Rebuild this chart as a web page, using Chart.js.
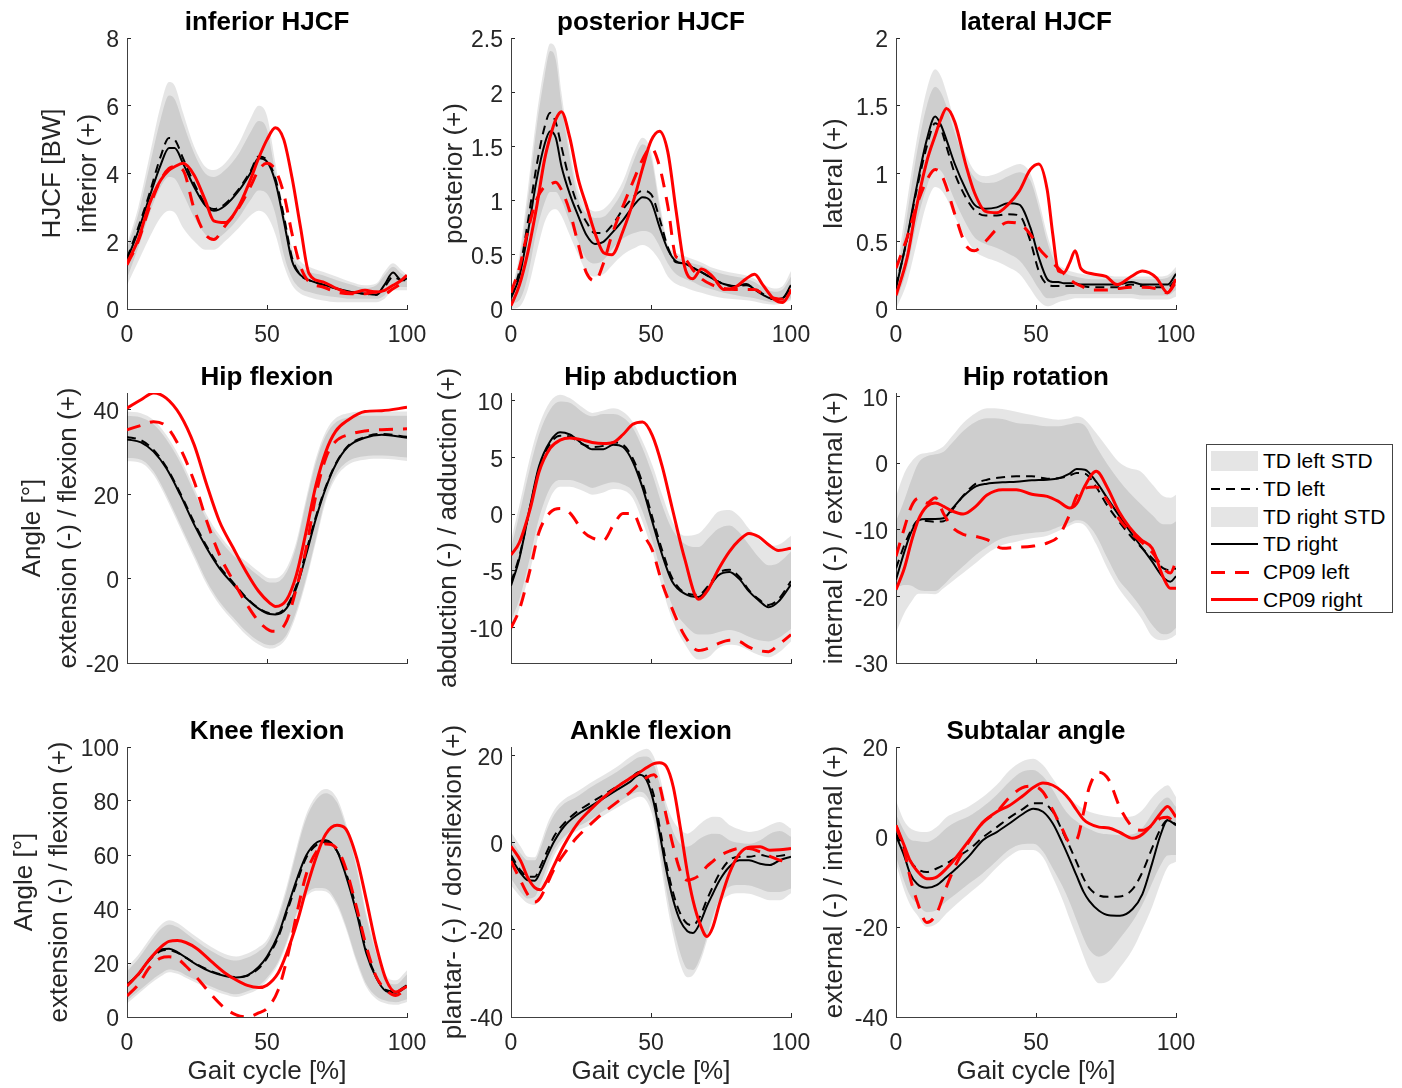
<!DOCTYPE html>
<html>
<head>
<meta charset="utf-8">
<title>Hip contact forces and joint angles over the gait cycle</title>
<script src="https://cdn.jsdelivr.net/npm/chart.js@4.4.1/dist/chart.umd.min.js"></script>
<style>
  html, body { margin: 0; padding: 0; background: #fff; }
  #page { position: relative; width: 1402px; height: 1088px; overflow: hidden;
          font-family: "Liberation Sans", Arial, Helvetica, sans-serif; }
  #page canvas { position: absolute; }
  #legend { position: absolute; left: 1206px; top: 444px; width: 185px; height: 167px;
            border: 1px solid #444; background: #fff; }
  #legend .item { position: absolute; left: 0; width: 185px; height: 26px; }
  #legend .sw { position: absolute; left: 4px; width: 47px; }
  #legend .lbl { position: absolute; left: 56px; top: 0; font-size: 21px; line-height: 26px;
                 color: #000; white-space: nowrap; }
</style>
</head>
<body>
<div id="page"></div>
<script>
/* ---------- Ortak değerler ---------- */
const xTicks = [0, 50, 100];
const legendLabels = ['TD left STD', 'TD left', 'TD right STD', 'TD right', 'CP09 left', 'CP09 right'];

/* ---------- inferior HJCF ---------- */
const infX        = [0, 4, 8, 12, 15, 17, 20, 24, 28, 31, 35, 40, 44, 47, 50, 53, 56, 59, 62, 65, 70, 75, 80, 85, 89, 92, 95, 98, 100];
const infTdRight  = [1.45, 2.3, 3.3, 4.25, 4.75, 4.75, 4.3, 3.6, 3.05, 2.9, 3.05, 3.5, 4.0, 4.45, 4.35, 3.75, 2.6, 1.4, 1.0, 0.85, 0.72, 0.6, 0.5, 0.45, 0.42, 0.72, 1.08, 0.85, 0.9];
const infTdLeft   = [1.5, 2.4, 3.4, 4.5, 5.05, 5.0, 4.45, 3.7, 3.1, 2.95, 3.1, 3.55, 4.05, 4.5, 4.4, 3.85, 2.75, 1.5, 1.0, 0.85, 0.72, 0.6, 0.5, 0.45, 0.42, 0.65, 0.95, 0.85, 0.85];
const infCpRight  = [1.35, 2.05, 3.1, 3.8, 4.1, 4.2, 4.3, 3.95, 3.2, 2.6, 2.55, 3.05, 3.8, 4.45, 5.0, 5.35, 5.0, 3.85, 2.4, 1.05, 0.8, 0.6, 0.47, 0.55, 0.5, 0.55, 0.7, 0.85, 1.0];
const infCpLeft   = [1.3, 2.0, 3.0, 3.8, 4.15, 4.2, 4.1, 2.95, 2.2, 2.05, 2.45, 3.0, 3.6, 4.1, 4.3, 4.1, 3.4, 2.2, 1.25, 0.8, 0.65, 0.5, 0.45, 0.45, 0.5, 0.45, 0.6, 0.75, 0.85];
const infLeftUp   = [1.9, 3.0, 4.5, 6.0, 6.7, 6.6, 5.8, 4.8, 4.2, 4.1, 4.3, 4.9, 5.6, 6.0, 5.7, 4.3, 2.9, 1.8, 1.4, 1.25, 1.1, 0.95, 0.8, 0.7, 0.75, 1.1, 1.35, 1.15, 1.0];
const infLeftLo   = [0.9, 1.8, 2.8, 3.6, 3.9, 3.85, 3.4, 2.7, 2.2, 2.05, 2.25, 2.7, 3.2, 3.5, 3.4, 2.8, 1.6, 0.9, 0.6, 0.5, 0.4, 0.35, 0.3, 0.3, 0.3, 0.4, 0.7, 0.65, 0.65];
const infRightUp  = [1.8, 2.8, 4.2, 5.6, 6.3, 6.2, 5.5, 4.6, 4.0, 3.9, 4.1, 4.6, 5.2, 5.55, 5.3, 4.0, 2.7, 1.6, 1.25, 1.1, 1.0, 0.85, 0.72, 0.62, 0.7, 1.0, 1.25, 1.05, 0.95];
const infRightLo  = [0.7, 1.4, 2.1, 2.7, 2.9, 2.85, 2.4, 2.0, 1.75, 1.75, 2.0, 2.4, 2.75, 2.9, 2.75, 2.2, 1.3, 0.7, 0.45, 0.35, 0.25, 0.2, 0.2, 0.2, 0.2, 0.3, 0.55, 0.55, 0.55];
const infYTicks   = [0, 2, 4, 6, 8];

/* ---------- posterior HJCF ---------- */
const postX       = [0, 3, 6, 9, 12, 14, 16, 18, 21, 24, 27, 30, 33, 36, 40, 44, 47, 50, 53, 56, 59, 62, 65, 68, 72, 76, 80, 84, 87, 90, 94, 97, 100];
const postTdRight = [0.1, 0.3, 0.7, 1.17, 1.52, 1.64, 1.58, 1.32, 1.06, 0.86, 0.68, 0.6, 0.62, 0.7, 0.82, 0.96, 1.03, 0.99, 0.76, 0.55, 0.44, 0.42, 0.38, 0.34, 0.28, 0.23, 0.21, 0.23, 0.18, 0.13, 0.09, 0.1, 0.22];
const postTdLeft  = [0.12, 0.35, 0.8, 1.3, 1.68, 1.81, 1.72, 1.5, 1.18, 0.95, 0.8, 0.7, 0.7, 0.77, 0.92, 1.04, 1.09, 1.06, 0.84, 0.57, 0.43, 0.42, 0.38, 0.34, 0.28, 0.23, 0.21, 0.22, 0.19, 0.14, 0.09, 0.1, 0.2];
const postCpRight = [0.03, 0.22, 0.52, 0.92, 1.38, 1.59, 1.75, 1.82, 1.58, 1.2, 0.95, 0.7, 0.52, 0.5, 0.72, 1.02, 1.3, 1.55, 1.64, 1.45, 0.9, 0.39, 0.28, 0.37, 0.3, 0.18, 0.2, 0.28, 0.32, 0.22, 0.09, 0.06, 0.17];
const postCpLeft  = [0.15, 0.38, 0.72, 1.0, 1.13, 1.15, 1.17, 1.1, 0.9, 0.6, 0.33, 0.26, 0.42, 0.68, 0.95, 1.2, 1.38, 1.49, 1.32, 0.95, 0.48, 0.46, 0.36, 0.28, 0.22, 0.19, 0.18, 0.18, 0.18, 0.14, 0.1, 0.09, 0.18];
const postLeftUp  = [0.15, 0.5, 1.1, 1.75, 2.25, 2.45, 2.4, 2.0, 1.47, 1.1, 0.95, 0.9, 0.92, 1.0, 1.18, 1.45, 1.58, 1.45, 1.0, 0.6, 0.52, 0.49, 0.46, 0.43, 0.38, 0.35, 0.33, 0.31, 0.28, 0.23, 0.19, 0.21, 0.35];
const postLeftLo  = [0.05, 0.08, 0.3, 0.7, 0.98, 1.08, 1.08, 1.0, 0.8, 0.62, 0.46, 0.42, 0.45, 0.55, 0.65, 0.7, 0.72, 0.7, 0.58, 0.42, 0.32, 0.28, 0.25, 0.21, 0.18, 0.15, 0.13, 0.11, 0.1, 0.08, 0.06, 0.06, 0.1];
const postRightUp = [0.12, 0.45, 1.0, 1.65, 2.15, 2.38, 2.3, 1.9, 1.4, 1.02, 0.88, 0.84, 0.85, 0.93, 1.1, 1.38, 1.52, 1.4, 0.95, 0.56, 0.48, 0.45, 0.42, 0.4, 0.35, 0.32, 0.3, 0.28, 0.25, 0.2, 0.16, 0.18, 0.3];
const postRightLo = [0.0, 0.02, 0.18, 0.5, 0.8, 0.9, 0.92, 0.86, 0.68, 0.5, 0.34, 0.3, 0.32, 0.4, 0.5, 0.56, 0.59, 0.55, 0.45, 0.3, 0.23, 0.2, 0.17, 0.15, 0.12, 0.1, 0.09, 0.08, 0.07, 0.05, 0.04, 0.05, 0.08];
const postYTicks  = [0, 0.5, 1, 1.5, 2, 2.5];

/* ---------- lateral HJCF ---------- */
const latX        = [0, 4, 7, 11, 14, 16, 18, 21, 25, 28, 32, 36, 40, 44, 48, 51, 54, 56, 58, 60, 62, 64, 66, 70, 75, 79, 84, 88, 93, 97, 100];
const latTdRight  = [0.15, 0.53, 0.86, 1.25, 1.42, 1.36, 1.25, 1.07, 0.88, 0.77, 0.74, 0.75, 0.78, 0.77, 0.6, 0.38, 0.22, 0.2, 0.2, 0.19, 0.19, 0.19, 0.18, 0.18, 0.18, 0.18, 0.2, 0.18, 0.18, 0.18, 0.26];
const latTdLeft   = [0.17, 0.52, 0.84, 1.2, 1.37, 1.33, 1.2, 1.0, 0.82, 0.73, 0.69, 0.69, 0.7, 0.69, 0.5, 0.28, 0.18, 0.17, 0.17, 0.17, 0.17, 0.17, 0.17, 0.16, 0.16, 0.16, 0.18, 0.17, 0.16, 0.16, 0.22];
const latCpRight  = [0.1, 0.38, 0.72, 1.09, 1.28, 1.4, 1.48, 1.38, 1.06, 0.86, 0.72, 0.71, 0.77, 0.87, 1.03, 1.07, 0.88, 0.55, 0.28, 0.27, 0.34, 0.43, 0.3, 0.26, 0.24, 0.18, 0.24, 0.28, 0.23, 0.12, 0.22];
const latCpLeft   = [0.3, 0.53, 0.74, 0.95, 1.03, 1.0, 0.9, 0.7, 0.47, 0.43, 0.5, 0.59, 0.64, 0.63, 0.55, 0.45, 0.38, 0.34, 0.3, 0.26, 0.22, 0.19, 0.17, 0.14, 0.14, 0.15, 0.16, 0.16, 0.15, 0.12, 0.2];
const latLeftUp   = [0.25, 0.8, 1.2, 1.62, 1.77, 1.72, 1.6, 1.38, 1.14, 1.02, 0.98, 1.0, 1.04, 1.07, 1.0, 0.8, 0.55, 0.42, 0.33, 0.3, 0.28, 0.27, 0.26, 0.25, 0.25, 0.24, 0.24, 0.24, 0.24, 0.25, 0.31];
const latLeftLo   = [0.05, 0.3, 0.6, 0.9, 1.04, 1.02, 0.95, 0.8, 0.63, 0.53, 0.48, 0.45, 0.41, 0.36, 0.25, 0.15, 0.08, 0.08, 0.09, 0.1, 0.11, 0.11, 0.11, 0.11, 0.11, 0.11, 0.11, 0.1, 0.1, 0.1, 0.14];
const latRightUp  = [0.2, 0.7, 1.1, 1.5, 1.64, 1.6, 1.5, 1.3, 1.08, 0.97, 0.93, 0.94, 0.98, 1.01, 0.95, 0.75, 0.5, 0.38, 0.3, 0.27, 0.25, 0.24, 0.23, 0.22, 0.22, 0.22, 0.22, 0.22, 0.22, 0.23, 0.28];
const latRightLo  = [0.0, 0.2, 0.45, 0.78, 0.9, 0.88, 0.82, 0.68, 0.52, 0.43, 0.38, 0.35, 0.31, 0.26, 0.15, 0.06, 0.02, 0.03, 0.05, 0.06, 0.07, 0.08, 0.08, 0.08, 0.08, 0.08, 0.08, 0.07, 0.07, 0.07, 0.09];
const latYTicks   = [0, 0.5, 1, 1.5, 2];

/* ---------- Hip flexion ---------- */
const flexX       = [0, 5, 9.5, 14, 19, 24, 28.5, 33, 38, 42.5, 47, 51, 53, 57, 60.5, 64, 67.5, 71, 74.5, 79, 85, 91, 100];
const flexTdRight = [33.0, 32.3, 30.1, 26.2, 19.9, 12.8, 7.2, 2.5, -1.4, -4.6, -7.1, -8.4, -8.5, -7.0, -2.2, 5.7, 14.3, 21.5, 27.0, 31.3, 33.4, 34.1, 33.4];
const flexTdLeft  = [33.6, 32.8, 30.5, 26.5, 20.3, 13.3, 7.6, 2.9, -1.0, -4.4, -7.0, -8.2, -8.3, -6.6, -1.6, 6.5, 14.8, 21.8, 27.2, 31.5, 33.6, 34.3, 33.6];
const flexCpRight = [40.4, 42.4, 44.0, 42.8, 38.8, 31.7, 22.2, 13.6, 7.2, 1.7, -3.0, -5.8, -6.6, -5.0, 0.9, 11.2, 22.2, 30.1, 34.9, 37.6, 39.6, 39.8, 40.6];
const flexCpLeft  = [35.3, 36.3, 37.2, 36.1, 30.9, 23.0, 13.6, 5.7, -0.6, -5.8, -10.1, -12.3, -12.5, -10.1, -2.2, 7.2, 19.9, 28.6, 32.5, 34.1, 35.0, 35.3, 35.5];
const flexLeftUp  = [39.6, 39.2, 37.6, 34.1, 28.6, 21.5, 15.1, 10.4, 6.5, 4.1, 1.7, 0.1, 0.1, 2.5, 8.8, 19.1, 28.6, 34.9, 38.0, 39.2, 39.6, 39.6, 39.6];
const flexLeftLo  = [28.6, 28.2, 25.4, 19.9, 12.8, 5.7, -0.6, -5.4, -9.3, -12.5, -14.8, -15.8, -15.6, -13.3, -7.7, 0.2, 9.6, 19.1, 24.6, 27.8, 29.0, 29.2, 28.7];
const flexRightUp = [38.6, 38.2, 36.6, 33.1, 27.6, 20.5, 14.1, 9.4, 5.5, 3.1, 0.7, -0.9, -0.9, 1.5, 7.8, 18.1, 27.6, 33.9, 37.0, 38.2, 38.6, 38.6, 38.6];
const flexRightLo = [27.8, 27.4, 24.6, 19.1, 12.0, 4.9, -1.4, -6.2, -10.1, -13.3, -15.6, -16.6, -16.4, -14.1, -8.5, -0.6, 8.8, 18.3, 23.8, 27.0, 28.2, 28.4, 27.9];
const flexYTicks  = [-20, 0, 20, 40];

/* ---------- Hip abduction ---------- */
const abdX        = [0, 3, 7, 10, 14, 17.5, 21, 26, 29, 33, 36.5, 40, 43.5, 47, 50.5, 54, 57.5, 62, 67, 70.5, 74, 78, 81.5, 85, 88.5, 92, 95.5, 100];
const abdTdRight  = [-6.3, -3.9, 0.9, 4.2, 6.4, 7.2, 7.0, 6.1, 5.7, 5.7, 6.1, 5.9, 4.6, 2.3, -0.7, -3.6, -5.9, -7.0, -7.3, -6.5, -5.4, -5.1, -5.7, -6.8, -7.6, -8.2, -7.7, -6.2];
const abdTdLeft   = [-6.0, -3.7, 0.8, 4.0, 6.2, 6.9, 6.8, 6.1, 5.9, 6.0, 6.3, 6.1, 4.9, 2.7, -0.3, -3.2, -5.6, -6.9, -7.1, -6.3, -5.2, -4.9, -5.5, -6.7, -7.5, -8.0, -7.5, -5.9];
const abdCpRight  = [-3.6, -2.5, 0.6, 3.7, 5.8, 6.5, 6.7, 6.5, 6.3, 6.2, 6.3, 7.0, 7.9, 8.1, 6.9, 4.2, 0.6, -3.9, -7.5, -6.6, -4.9, -3.3, -2.3, -1.7, -2.0, -2.7, -3.2, -3.0];
const abdCpLeft   = [-10.0, -8.4, -4.7, -1.6, 0.15, 0.5, 0.1, -1.6, -2.1, -2.3, -1.0, 0.05, 0.05, -1.7, -3.2, -6.1, -8.3, -10.7, -12.0, -11.8, -11.4, -11.1, -11.2, -11.7, -12.0, -12.1, -11.5, -10.6];
const abdLeftUp   = [-2.3, 0.8, 5.2, 7.8, 9.9, 10.5, 10.2, 9.3, 8.9, 9.1, 9.3, 9.0, 8.1, 6.4, 4.3, 1.7, -0.6, -1.9, -1.7, -0.8, 0.2, 0.35, -0.2, -1.3, -2.2, -2.8, -2.7, -1.9];
const abdLeftLo   = [-9.4, -7.5, -3.6, -0.4, 2.3, 3.0, 3.0, 2.6, 2.3, 2.6, 2.8, 2.6, 2.0, 0.2, -2.4, -5.4, -8.0, -9.7, -10.6, -10.6, -10.4, -10.2, -10.4, -10.8, -11.1, -11.2, -10.9, -10.1];
const abdRightUp  = [-3.0, 0.0, 4.3, 7.0, 9.2, 9.9, 9.8, 8.9, 8.6, 8.8, 8.8, 8.5, 7.6, 5.8, 3.5, 0.8, -1.3, -2.6, -2.9, -2.1, -1.3, -1.0, -1.6, -2.7, -3.8, -4.5, -4.3, -3.3];
const abdRightLo  = [-10.3, -8.3, -4.8, -1.7, 1.4, 2.4, 2.4, 2.0, 1.7, 1.9, 2.2, 2.1, 1.4, -0.7, -3.3, -6.5, -9.2, -11.4, -12.8, -12.6, -11.8, -11.5, -11.6, -12.0, -12.4, -12.6, -12.2, -11.2];
const abdYTicks   = [-10, -5, 0, 5, 10];

/* ---------- Hip rotation ---------- */
const rotX        = [0, 3, 5.5, 8, 11, 14, 17, 20, 24, 28.5, 32.5, 38, 43, 48.5, 54, 58, 62, 64.5, 67.5, 71.5, 75.5, 79.5, 83.5, 87.5, 91.5, 95.5, 98, 100];
const rotTdRight  = [-17.5, -13.3, -10.3, -8.6, -8.4, -8.4, -8.3, -6.9, -5.0, -3.5, -3.1, -2.9, -2.8, -2.6, -2.5, -2.3, -1.6, -0.9, -1.0, -2.8, -5.3, -7.8, -10.2, -12.5, -14.8, -17.2, -17.8, -17.0];
const rotTdLeft   = [-15.8, -12.3, -10.0, -8.6, -8.7, -8.8, -8.75, -7.1, -4.9, -3.1, -2.5, -2.15, -2.0, -2.0, -2.35, -2.3, -1.9, -1.5, -1.6, -3.6, -6.4, -8.7, -10.8, -12.6, -14.3, -15.8, -16.1, -15.8];
const rotCpRight  = [-19.0, -15.75, -11.8, -8.5, -6.5, -6.0, -6.5, -7.2, -7.65, -6.5, -4.8, -4.0, -4.0, -4.7, -5.0, -5.75, -6.75, -6.1, -3.4, -1.25, -3.7, -7.2, -9.7, -11.5, -12.8, -17.2, -18.8, -18.8];
const rotCpLeft   = [-14.0, -9.75, -6.5, -5.3, -6.0, -5.2, -7.6, -9.6, -10.7, -11.0, -11.5, -12.8, -12.65, -12.5, -12.0, -11.0, -7.75, -5.0, -3.8, -3.6, -5.6, -8.3, -10.3, -11.8, -13.4, -15.8, -16.5, -14.7];
const rotLeftUp   = [-5.0, -1.5, 0.2, 1.2, 1.5, 1.8, 2.5, 4.0, 6.0, 7.5, 8.2, 8.1, 7.7, 7.2, 6.7, 6.5, 6.7, 7.0, 6.5, 4.5, 2.3, 0.2, -0.8, -1.3, -3.2, -5.0, -5.2, -4.75];
const rotLeftLo   = [-18.75, -18.3, -18.4, -19.0, -19.2, -19.2, -18.3, -17.0, -15.5, -13.8, -12.6, -11.3, -10.8, -10.5, -10.25, -9.6, -9.0, -8.6, -8.9, -10.9, -14.3, -17.5, -19.5, -21.7, -24.3, -25.7, -25.5, -24.75];
const rotRightUp  = [-8.75, -5.5, -2.5, 0.0, 1.0, 1.3, 1.7, 3.0, 4.8, 6.2, 6.7, 6.6, 6.0, 5.8, 5.5, 5.5, 5.8, 6.0, 5.6, 2.5, -0.2, -2.5, -4.5, -6.2, -7.8, -9.2, -9.2, -8.75];
const rotRightLo  = [-25.5, -22.5, -20.8, -19.6, -19.6, -19.7, -18.8, -17.8, -16.5, -15.0, -13.6, -12.3, -11.8, -11.3, -10.9, -10.2, -9.4, -9.0, -9.4, -12.2, -15.8, -18.8, -21.0, -23.2, -26.0, -26.6, -26.3, -25.75];
const rotYTicks   = [-30, -20, -10, 0, 10];

/* ---------- Knee flexion ---------- */
const kneeX       = [0, 4, 8, 12, 15, 18, 21, 25, 30, 35, 39, 43, 47, 50, 54, 57, 61, 64, 68, 71, 75, 78, 82, 85.5, 89, 92.5, 96, 100];
const kneeTdRight = [12.0, 15.8, 21.3, 25.0, 25.3, 24.0, 22.0, 19.3, 16.7, 15.2, 14.6, 15.4, 18.5, 22.4, 30.3, 39.6, 52.0, 59.8, 64.8, 65.5, 61.5, 53.0, 38.5, 23.5, 14.5, 9.6, 9.0, 11.4];
const kneeTdLeft  = [11.5, 15.5, 21.0, 24.4, 24.8, 23.8, 22.0, 19.5, 17.0, 15.4, 14.8, 15.3, 18.0, 21.8, 29.5, 38.5, 50.8, 59.0, 64.0, 64.8, 61.5, 54.0, 40.0, 24.5, 15.0, 10.0, 9.5, 11.8];
const kneeCpRight = [11.5, 15.8, 21.3, 25.8, 28.0, 28.3, 27.6, 25.3, 20.7, 16.3, 13.7, 11.7, 10.9, 11.8, 16.3, 23.5, 36.0, 47.3, 60.5, 67.8, 71.0, 69.8, 59.0, 43.3, 26.5, 13.9, 9.3, 11.4];
const kneeCpLeft  = [7.8, 12.0, 18.3, 21.8, 22.3, 21.6, 18.9, 14.5, 8.4, 3.2, 0.8, 0.0, 1.5, 3.2, 10.0, 21.0, 40.0, 52.8, 61.8, 64.1, 62.3, 55.5, 40.5, 26.0, 15.0, 10.0, 8.0, 10.9];
const kneeLeftUp  = [18.5, 23.0, 28.8, 34.0, 35.8, 34.8, 32.6, 29.5, 26.0, 23.3, 22.4, 23.5, 25.8, 28.6, 38.0, 48.3, 64.5, 75.0, 82.5, 84.4, 81.0, 72.5, 56.5, 38.4, 25.0, 15.5, 13.6, 17.3];
const kneeLeftLo  = [6.0, 9.5, 13.0, 16.0, 17.6, 17.0, 15.5, 13.5, 11.3, 9.3, 8.4, 9.5, 11.5, 14.5, 20.5, 28.0, 39.5, 45.5, 47.8, 47.5, 42.2, 34.3, 21.2, 12.1, 7.7, 6.0, 5.5, 6.6];
const kneeRightUp = [17.0, 21.5, 27.3, 32.5, 34.3, 33.3, 31.1, 28.0, 24.5, 21.8, 20.9, 22.0, 24.3, 27.1, 36.5, 46.8, 63.0, 73.5, 81.0, 82.9, 79.5, 71.0, 55.0, 36.9, 23.5, 14.0, 12.1, 15.8];
const kneeRightLo = [5.0, 8.5, 12.0, 15.0, 16.6, 16.0, 14.5, 12.5, 10.3, 8.3, 7.4, 8.5, 10.5, 13.5, 19.5, 27.0, 38.5, 44.5, 46.8, 46.5, 41.2, 33.3, 20.2, 11.1, 6.7, 5.0, 4.5, 5.6];
const kneeYTicks  = [0, 20, 40, 60, 80, 100];

/* ---------- Ankle flexion ---------- */
const ankX        = [0, 3.5, 6, 8.5, 10.5, 13, 15.5, 19, 23.5, 28, 33, 38, 42.5, 46, 48.5, 51, 53, 55.5, 58, 60.5, 63, 65, 67.5, 70, 72, 74.5, 78, 81.5, 85, 89, 92.5, 96, 100];
const ankTdRight  = [-3.5, -7.0, -8.6, -8.7, -6.6, -2.9, 0.4, 3.8, 6.4, 8.2, 10.2, 12.2, 14.0, 15.6, 14.3, 9.2, 2.5, -6.3, -13.3, -18.0, -20.3, -20.7, -18.4, -14.5, -11.8, -8.6, -5.5, -4.0, -4.0, -4.8, -5.1, -4.0, -3.2];
const ankTdLeft   = [-2.8, -6.4, -7.8, -7.8, -5.4, -1.8, 1.6, 4.5, 7.1, 9.0, 11.0, 13.0, 14.8, 16.3, 15.1, 10.9, 4.0, -4.8, -11.7, -16.3, -18.6, -18.9, -16.9, -13.0, -10.2, -7.0, -4.0, -3.2, -3.2, -2.8, -3.2, -3.0, -2.5];
const ankCpRight  = [-0.8, -4.2, -8.0, -10.3, -10.8, -8.4, -5.0, -0.5, 4.2, 7.4, 10.4, 12.9, 14.8, 16.2, 17.3, 18.2, 18.4, 17.5, 12.7, 3.4, -6.8, -13.2, -18.6, -21.5, -19.5, -13.9, -7.0, -2.6, -1.0, -0.9, -1.7, -1.6, -1.3];
const ankCpLeft   = [-4.2, -8.8, -11.9, -13.6, -12.6, -9.3, -5.9, -2.5, 1.2, 4.0, 6.9, 9.4, 11.6, 13.7, 15.0, 15.6, 13.3, 6.0, -1.0, -6.5, -8.6, -8.3, -7.3, -5.4, -4.3, -3.0, -1.9, -1.3, -1.3, -2.1, -3.1, -4.0, -4.4];
const ankLeftUp   = [2.5, -0.9, -3.2, -3.3, -0.3, 4.4, 7.6, 10.0, 11.7, 13.6, 15.5, 17.5, 19.7, 21.1, 21.6, 19.8, 15.6, 9.0, 5.0, 3.0, 2.1, 2.8, 4.3, 5.5, 6.0, 5.9, 4.1, 3.1, 2.5, 3.0, 4.1, 4.8, 3.3];
const ankLeftLo   = [-8.2, -11.4, -12.8, -12.4, -9.6, -5.2, -1.5, 1.4, 3.5, 5.1, 7.3, 9.2, 11.0, 11.7, 10.7, 6.8, -0.5, -10.9, -19.3, -25.5, -29.0, -29.2, -26.5, -21.5, -17.0, -13.0, -10.1, -9.7, -9.8, -10.6, -11.3, -11.3, -10.5];
const ankRightUp  = [0.8, -2.5, -4.0, -4.0, -1.3, 3.3, 6.5, 9.0, 10.6, 12.6, 14.5, 16.4, 18.4, 19.7, 19.8, 18.1, 13.8, 7.5, 2.4, -0.3, -0.9, -0.3, 1.0, 1.8, 2.1, 2.0, 0.6, 0.0, -0.2, 0.6, 2.1, 2.7, 1.4];
const ankRightLo  = [-9.8, -12.5, -13.9, -14.3, -11.5, -6.8, -2.8, 0.6, 2.7, 4.0, 6.2, 8.1, 9.8, 10.6, 9.5, 5.0, -2.7, -13.2, -21.6, -28.0, -30.9, -30.4, -27.5, -22.5, -18.0, -14.0, -12.0, -11.6, -11.7, -12.5, -13.2, -13.2, -11.6];
const ankYTicks   = [-40, -20, 0, 20];

/* ---------- Subtalar angle ---------- */
const subX        = [0, 3, 5, 7.5, 11, 14.5, 18, 21.5, 26, 31, 36, 40.5, 45, 49, 52.5, 56, 59.5, 62, 64.5, 67, 69, 72.5, 76, 80, 84.5, 88, 91.5, 94.5, 97, 100];
const subTdRight  = [0.3, -4.3, -8.1, -10.4, -11.3, -10.7, -8.9, -7.0, -4.3, -0.7, 1.1, 3.0, 5.0, 6.3, 5.6, 3.0, -1.4, -4.9, -8.6, -12.2, -14.2, -16.4, -17.4, -17.5, -16.0, -12.7, -5.8, 0.5, 3.7, 2.6];
const subTdLeft   = [0.8, -2.6, -5.2, -7.0, -7.8, -7.0, -5.9, -4.5, -2.8, -0.1, 2.2, 4.3, 6.1, 7.5, 7.5, 5.6, 1.2, -2.1, -5.6, -9.2, -11.3, -13.0, -13.3, -13.2, -11.6, -7.8, -2.4, 1.8, 3.8, 2.8];
const subCpRight  = [2.6, -2.0, -5.2, -7.5, -9.3, -8.9, -7.0, -4.5, -0.8, 3.2, 5.6, 7.0, 9.0, 11.0, 12.0, 11.5, 10.0, 8.3, 6.0, 3.9, 3.0, 2.2, 2.0, 1.0, -0.3, 0.6, 2.8, 5.3, 6.8, 4.4];
const subCpLeft   = [2.5, -3.0, -8.9, -14.2, -19.0, -17.0, -11.1, -6.0, -1.1, 3.2, 5.6, 8.8, 10.9, 11.3, 10.0, 6.0, 1.6, -1.1, -0.6, 5.5, 11.0, 14.4, 12.7, 6.5, 2.2, 1.5, 2.6, 4.2, 4.4, 2.6];
const subLeftUp   = [8.0, 3.5, 2.0, 1.3, 1.1, 2.2, 4.4, 5.5, 6.8, 8.9, 11.6, 14.8, 16.8, 17.4, 16.0, 13.0, 10.0, 8.5, 7.3, 6.2, 5.6, 5.0, 4.6, 4.4, 4.6, 6.0, 8.8, 10.6, 11.5, 8.9];
const subLeftLo   = [-4.4, -10.0, -13.0, -14.8, -16.7, -16.3, -14.3, -12.6, -10.4, -8.1, -5.3, -2.8, -1.6, -1.5, -3.2, -7.0, -11.0, -14.5, -18.5, -22.5, -25.0, -26.6, -25.5, -22.5, -18.8, -15.0, -10.2, -6.3, -4.1, -4.0];
const subRightUp  = [5.0, 1.3, -0.5, -0.9, -1.1, 0.0, 2.0, 3.4, 4.6, 6.7, 9.4, 12.3, 14.5, 14.9, 13.5, 10.5, 6.8, 4.8, 3.5, 2.4, 1.8, 0.9, 0.6, 0.4, 0.6, 2.0, 5.2, 7.8, 8.8, 6.7];
const subRightLo  = [-5.9, -12.0, -15.0, -17.3, -20.0, -19.3, -17.0, -15.0, -12.6, -10.0, -6.8, -4.3, -2.9, -2.9, -4.5, -9.0, -14.0, -18.2, -22.3, -26.5, -29.5, -32.5, -32.0, -29.0, -25.0, -20.5, -15.5, -10.3, -6.7, -5.5];
const subYTicks   = [-40, -20, 0, 20];

/* ---------- Yerleşim ve stil ---------- */
const FONT = '"Liberation Sans", Arial, Helvetica, sans-serif';
const AXIS = '#262626';
const RED = '#ff0000';
const BAND = 'rgba(0,0,0,0.1)';
const COL_L = [127, 511, 896];
const ROW_T = [38, 393, 747];
const ROW_H = [271, 270, 270];
const PLOT_W = 280;
const TITLE_H = 32;
const LABEL_SPACING = 35.5;

const panels = [
  { title: 'inferior HJCF', col: 0, row: 0, x: infX, tdR: infTdRight, tdL: infTdLeft, cpR: infCpRight, cpL: infCpLeft,
    lUp: infLeftUp, lLo: infLeftLo, rUp: infRightUp, rLo: infRightLo, min: 0, max: 8, yTicks: infYTicks,
    yLabel: ['HJCF [BW]', 'inferior (+)'], gap: 38.4, xLabels: true, xTitle: false },
  { title: 'posterior HJCF', col: 1, row: 0, x: postX, tdR: postTdRight, tdL: postTdLeft, cpR: postCpRight, cpL: postCpLeft,
    lUp: postLeftUp, lLo: postLeftLo, rUp: postRightUp, rLo: postRightLo, min: 0, max: 2.5, yTicks: postYTicks,
    yLabel: ['posterior (+)'], gap: 55.7, xLabels: true, xTitle: false },
  { title: 'lateral HJCF', col: 2, row: 0, x: latX, tdR: latTdRight, tdL: latTdLeft, cpR: latCpRight, cpL: latCpLeft,
    lUp: latLeftUp, lLo: latLeftLo, rUp: latRightUp, rLo: latRightLo, min: 0, max: 2, yTicks: latYTicks,
    yLabel: ['lateral (+)'], gap: 61, xLabels: true, xTitle: false },
  { title: 'Hip flexion', col: 0, row: 1, x: flexX, tdR: flexTdRight, tdL: flexTdLeft, cpR: flexCpRight, cpL: flexCpLeft,
    lUp: flexLeftUp, lLo: flexLeftLo, rUp: flexRightUp, rLo: flexRightLo, min: -20, max: 44, yTicks: flexYTicks,
    yLabel: ['Angle [°]', 'extension (-) / flexion (+)'], gap: 58.4, xLabels: false, xTitle: false },
  { title: 'Hip abduction', col: 1, row: 1, x: abdX, tdR: abdTdRight, tdL: abdTdLeft, cpR: abdCpRight, cpL: abdCpLeft,
    lUp: abdLeftUp, lLo: abdLeftLo, rUp: abdRightUp, rLo: abdRightLo, min: -13.1, max: 10.65, yTicks: abdYTicks,
    yLabel: ['abduction (-) / adduction (+)'], gap: 62.4, xLabels: false, xTitle: false },
  { title: 'Hip rotation', col: 2, row: 1, x: rotX, tdR: rotTdRight, tdL: rotTdLeft, cpR: rotCpRight, cpL: rotCpLeft,
    lUp: rotLeftUp, lLo: rotLeftLo, rUp: rotRightUp, rLo: rotRightLo, min: -30, max: 10.5, yTicks: rotYTicks,
    yLabel: ['internal (-) / external (+)'], gap: 61, xLabels: false, xTitle: false },
  { title: 'Knee flexion', col: 0, row: 2, x: kneeX, tdR: kneeTdRight, tdL: kneeTdLeft, cpR: kneeCpRight, cpL: kneeCpLeft,
    lUp: kneeLeftUp, lLo: kneeLeftLo, rUp: kneeRightUp, rLo: kneeRightLo, min: 0, max: 100, yTicks: kneeYTicks,
    yLabel: ['Angle [°]', 'extension (-) / flexion (+)'], gap: 66.7, xLabels: true, xTitle: true },
  { title: 'Ankle flexion', col: 1, row: 2, x: ankX, tdR: ankTdRight, tdL: ankTdLeft, cpR: ankCpRight, cpL: ankCpLeft,
    lUp: ankLeftUp, lLo: ankLeftLo, rUp: ankRightUp, rLo: ankRightLo, min: -40, max: 22, yTicks: ankYTicks,
    yLabel: ['plantar- (-) / dorsiflexion (+)'], gap: 57.4, xLabels: true, xTitle: true },
  { title: 'Subtalar angle', col: 2, row: 2, x: subX, tdR: subTdRight, tdL: subTdLeft, cpR: subCpRight, cpL: subCpLeft,
    lUp: subLeftUp, lLo: subLeftLo, rUp: subRightUp, rLo: subRightLo, min: -40, max: 20, yTicks: subYTicks,
    yLabel: ['external (-) / internal (+)'], gap: 61, xLabels: true, xTitle: true }
];

const fmt = v => String(Math.round(v * 100) / 100);

/* Dikey eksen başlığı: satırları döndürülmüş olarak çiz (maxWidth sıkıştırması olmadan) */
function yLabelPlugin(p) {
  return {
    id: 'yLabel',
    afterDraw(chart) {
      const { ctx, chartArea } = chart;
      const cy = (chartArea.top + chartArea.bottom) / 2;
      const n = p.yLabel.length;
      ctx.save();
      ctx.font = '26px ' + FONT;
      ctx.fillStyle = AXIS;
      ctx.textAlign = 'center';
      ctx.textBaseline = 'middle';
      p.yLabel.forEach((txt, i) => {
        const x = chartArea.left - p.gap - (n - 1 - i) * LABEL_SPACING;
        ctx.save();
        ctx.translate(x, cy);
        ctx.rotate(-Math.PI / 2);
        ctx.fillText(txt, 0, 0);
        ctx.restore();
      });
      ctx.restore();
    }
  };
}

function buildPanel(p) {
  const page = document.getElementById('page');
  const yW = Math.round(p.gap + (p.yLabel.length - 1) * LABEL_SPACING + 20);
  const xH = p.xTitle ? 70 : (p.xLabels ? 48 : 32);
  const padR = 46;   // "100" etiketinin taşması + tick padding için yer
  const cv = document.createElement('canvas');
  cv.width = yW + PLOT_W + padR;
  cv.height = TITLE_H + ROW_H[p.row] + xH;
  cv.style.left = (COL_L[p.col] - yW) + 'px';
  cv.style.top = (ROW_T[p.row] - TITLE_H) + 'px';
  page.appendChild(cv);

  const pts = ys => p.x.map((x, i) => ({ x, y: ys[i] }));
  const line = (ys, color, w, dash) => ({ data: pts(ys), borderColor: color, borderWidth: w, borderDash: dash,
    pointRadius: 0, fill: false, cubicInterpolationMode: 'monotone' });
  const band = (ys, fill) => ({ data: pts(ys), borderColor: 'rgba(0,0,0,0)', borderWidth: 0, backgroundColor: BAND,
    pointRadius: 0, fill, cubicInterpolationMode: 'monotone' });

  const gridOpts = { drawOnChartArea: false, drawTicks: true, tickLength: -4, color: AXIS };
  const borderOpts = { display: true, color: '#404040', width: 1 };

  new Chart(cv, {
    type: 'line',
    data: {
      datasets: [
        line(p.cpR, RED, 3, []),
        line(p.cpL, RED, 3, [14, 10]),
        line(p.tdR, '#000', 2, []),
        line(p.tdL, '#000', 2, [9, 6]),
        band(p.lUp, '+1'), band(p.lLo, false),
        band(p.rUp, '+1'), band(p.rLo, false)
      ]
    },
    options: {
      responsive: false, animation: false, devicePixelRatio: 1, events: [],
      layout: { padding: { left: 0, right: padR, top: 0, bottom: 0 } },
      plugins: {
        legend: { display: false },
        tooltip: { enabled: false },
        filler: { drawTime: 'beforeDatasetsDraw' },
        title: { display: true, text: p.title, color: '#000', fullSize: false,
                 padding: { top: 2, bottom: 0 },
                 font: { family: FONT, size: 26, weight: 'bold', lineHeight: '30px' } }
      },
      scales: {
        x: {
          type: 'linear', min: 0, max: 100,
          afterBuildTicks: s => { s.ticks = xTicks.map(v => ({ value: v })); },
          afterFit: s => { s.height = xH; },
          grid: gridOpts, border: borderOpts,
          ticks: { display: p.xLabels, padding: 17, color: AXIS, maxRotation: 0, autoSkip: false,
                   font: { family: FONT, size: 23 }, callback: fmt },
          title: { display: p.xTitle, text: 'Gait cycle [%]', color: AXIS, padding: { top: 0, bottom: 0 },
                   font: { family: FONT, size: 26, lineHeight: '30px' } }
        },
        y: {
          min: p.min, max: p.max,
          afterBuildTicks: s => { s.ticks = p.yTicks.map(v => ({ value: v })); },
          afterFit: s => { s.width = yW; },
          grid: gridOpts, border: borderOpts,
          ticks: { padding: 12, labelOffset: 3, color: AXIS, font: { family: FONT, size: 23 }, callback: fmt }
        }
      }
    },
    plugins: [yLabelPlugin(p)]
  });
}

/* ---------- Lejant ---------- */
function buildLegend() {
  const lg = document.createElement('div');
  lg.id = 'legend';
  const swatches = [
    'top:3px;height:20px;background:' + BAND,
    'top:12px;height:2px;background:repeating-linear-gradient(to right,#000 0 9px,transparent 9px 15px)',
    'top:3px;height:20px;background:' + BAND,
    'top:12px;height:2px;background:#000',
    'top:11.5px;height:3px;background:repeating-linear-gradient(to right,' + RED + ' 0 14px,transparent 14px 24px)',
    'top:11.5px;height:3px;background:' + RED
  ];
  legendLabels.forEach((txt, i) => {
    const it = document.createElement('div');
    it.className = 'item';
    it.style.top = (3.3 + i * 27.7) + 'px';
    it.innerHTML = '<span class="sw" style="' + swatches[i] + '"></span><span class="lbl">' + txt + '</span>';
    lg.appendChild(it);
  });
  document.getElementById('page').appendChild(lg);
}

Chart.defaults.font.family = FONT;
panels.forEach(buildPanel);
buildLegend();
</script>
</body>
</html>
